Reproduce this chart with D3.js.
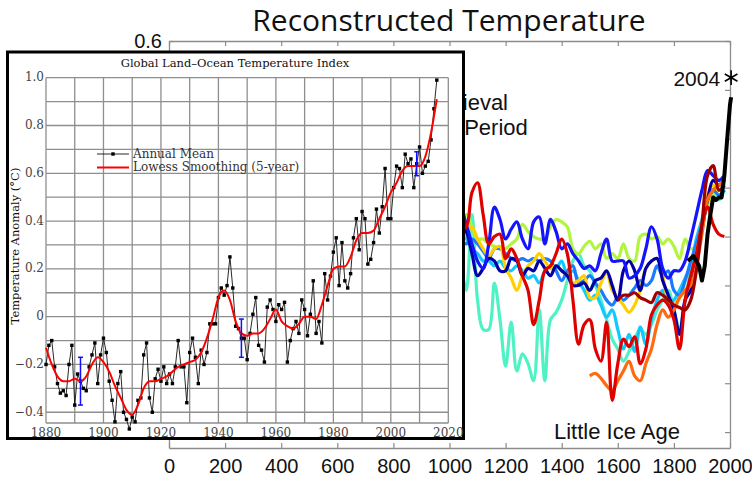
<!DOCTYPE html>
<html>
<head>
<meta charset="utf-8">
<script src="https://cdn.jsdelivr.net/npm/d3@7"></script>
<style>
  body { margin: 0; background: #fff; }
  svg { display: block; }
</style>
</head>
<body>
<svg id="chart" width="752" height="478"></svg>
<script>
// ---- background: reconstructed temperature (deg C) ----
const reconYears = [1040,1060,1080,1100,1120,1140,1160,1180,1200,1220,1240,1260,1280,1300,1320,1340,1360,1380,1400,1420,1440,1460,1480,1500,1520,1540,1560,1580,1600,1620,1640,1660,1680,1700,1720,1740,1760,1780,1800,1820,1840,1860,1880,1900,1920,1940,1960,1980];

const mintSeries = [-0.30,-0.42,-0.11,-0.46,-0.58,-0.58,-0.39,-0.54,-0.73,-0.55,-0.75,-0.68,-0.72,-0.79,-0.50,-0.79,-0.54,-0.51,-0.46,-0.38,-0.30,-0.27,-0.32,-0.34,-0.40,-0.46,-0.54,-0.62,-0.66,-0.71,-0.67,-0.62,-0.58,-0.60,-0.56,-0.50,-0.46,-0.42,-0.50,-0.58,-0.46,-0.34,-0.25,-0.17,-0.07,-0.03,-0.05,-0.01];
const limeSeries = [-0.13,-0.11,-0.16,-0.21,-0.21,-0.23,-0.24,-0.25,-0.25,-0.23,-0.21,-0.15,-0.18,-0.20,-0.21,-0.21,-0.16,-0.13,-0.14,-0.16,-0.25,-0.27,-0.24,-0.22,-0.25,-0.23,-0.29,-0.27,-0.29,-0.23,-0.29,-0.30,-0.20,-0.19,-0.21,-0.20,-0.23,-0.21,-0.24,-0.29,-0.21,-0.25,-0.24,-0.15,-0.07,-0.03,-0.01,0.01];
const cyanSeries = [-0.19,-0.21,-0.25,-0.27,-0.30,-0.30,-0.32,-0.30,-0.33,-0.34,-0.32,-0.34,-0.37,-0.36,-0.39,-0.34,-0.32,-0.33,-0.30,-0.36,-0.34,-0.38,-0.42,-0.46,-0.44,-0.48,-0.53,-0.50,-0.58,-0.66,-0.60,-0.67,-0.57,-0.64,-0.54,-0.46,-0.42,-0.48,-0.46,-0.42,-0.37,-0.32,-0.21,-0.13,-0.05,-0.01,0.01,0.03];
const lightBlueSeries = [-0.21,-0.23,-0.21,-0.23,-0.26,-0.29,-0.25,-0.25,-0.27,-0.29,-0.30,-0.29,-0.30,-0.29,-0.30,-0.29,-0.30,-0.34,-0.38,-0.34,-0.32,-0.39,-0.38,-0.36,-0.39,-0.42,-0.46,-0.48,-0.45,-0.46,-0.44,-0.41,-0.38,-0.40,-0.38,-0.32,-0.36,-0.34,-0.42,-0.44,-0.38,-0.30,-0.23,-0.15,-0.05,-0.01,-0.03,-0.01];
const yellowSeries = [-0.21,-0.19,-0.16,-0.21,-0.25,-0.28,-0.25,-0.24,-0.33,-0.37,-0.42,-0.36,-0.32,-0.30,-0.27,-0.30,-0.33,-0.32,-0.34,-0.36,-0.39,-0.38,-0.36,-0.45,-0.45,-0.39,-0.35,-0.42,-0.45,-0.48,-0.51,-0.48,-0.42,-0.33,-0.30,-0.29,-0.36,-0.46,-0.48,-0.45,-0.42,-0.38,-0.27,-0.15,-0.03,0.01,-0.01,0.01];
const navySeries = [-0.15,-0.18,-0.27,-0.36,-0.33,-0.29,-0.30,-0.34,-0.34,-0.29,-0.30,-0.36,-0.33,-0.34,-0.30,-0.33,-0.36,-0.32,-0.34,-0.36,-0.40,-0.40,-0.39,-0.42,-0.38,-0.37,-0.34,-0.40,-0.46,-0.34,-0.30,-0.34,-0.42,-0.33,-0.30,-0.29,-0.38,-0.44,-0.50,-0.60,-0.46,-0.42,-0.30,-0.17,-0.05,0.03,0.01,0.03];
const blueSeries = [-0.07,-0.15,-0.23,-0.30,-0.33,-0.23,-0.08,-0.13,-0.21,-0.17,-0.14,-0.21,-0.25,-0.14,-0.12,-0.23,-0.13,-0.18,-0.25,-0.23,-0.27,-0.30,-0.33,-0.32,-0.34,-0.27,-0.21,-0.30,-0.30,-0.30,-0.37,-0.36,-0.33,-0.25,-0.16,-0.21,-0.33,-0.37,-0.34,-0.34,-0.30,-0.21,-0.11,-0.01,0.07,0.05,0.03,0.05];
const orangeSeries = [-0.77,-0.76,-0.78,-0.81,-0.83,-0.79,-0.75,-0.71,-0.77,-0.79,-0.72,-0.66,-0.56,-0.50,-0.53,-0.50,-0.45,-0.42,-0.40,-0.32,-0.19,-0.05,-0.01,0.01,0.03];
const redSeries = [-0.17,-0.16,-0.02,0.02,-0.11,-0.23,-0.20,-0.19,-0.29,-0.25,-0.29,-0.36,-0.42,-0.56,-0.46,-0.34,-0.32,-0.27,-0.21,-0.27,-0.46,-0.64,-0.56,-0.54,-0.66,-0.71,-0.55,-0.87,-0.72,-0.62,-0.65,-0.61,-0.72,-0.66,-0.52,-0.48,-0.46,-0.48,-0.54,-0.66,-0.46,-0.36,-0.27,-0.15,-0.08,-0.15,-0.19,-0.20];
const darkRedSeries = [-0.46,-0.44,-0.44,-0.43,-0.45,-0.46,-0.47,-0.43,-0.44,-0.46,-0.48,-0.49,-0.50,-0.46,-0.34,-0.15,0.05,0.09,-0.01,0.01];

const instYears = [1850,1860,1870,1880,1890,1900,1910,1920,1930,1940,1950,1960,1970,1980,1990,2000,2004];
const instValues = [-0.30,-0.29,-0.28,-0.30,-0.32,-0.38,-0.32,-0.19,-0.11,-0.04,-0.05,-0.04,-0.04,0.05,0.20,0.34,0.37];
const star2004 = 0.45;

const bgXTicks = [0,200,400,600,800,1000,1200,1400,1600,1800,2000];
const bgYTicks = [0.6,0.4,0.2,0,-0.2,-0.4,-0.6,-0.8,-1.0];

// ---- inset: GISS land-ocean index ----
const annualStart = 1880;
const annualMean = [
  -0.20,-0.12,-0.10,-0.21,-0.28,-0.32,-0.31,-0.33,-0.20,-0.12,
  -0.37,-0.24,-0.27,-0.30,-0.31,-0.21,-0.16,-0.11,-0.28,-0.16,
  -0.09,-0.15,-0.27,-0.35,-0.44,-0.28,-0.23,-0.40,-0.43,-0.47,
  -0.42,-0.44,-0.35,-0.34,-0.16,-0.11,-0.34,-0.40,-0.26,-0.22,
  -0.27,-0.21,-0.28,-0.24,-0.28,-0.21,-0.10,-0.21,-0.21,-0.36,
  -0.15,-0.09,-0.17,-0.28,-0.14,-0.20,-0.15,-0.03,-0.03,-0.03,
  0.08,0.12,0.09,0.13,0.25,0.12,-0.04,-0.05,-0.09,-0.09,
  -0.18,-0.07,0.01,0.08,-0.12,-0.14,-0.19,0.04,0.07,0.03,
  -0.02,0.05,0.03,0.06,-0.19,-0.10,-0.05,-0.02,-0.07,0.07,
  0.03,-0.08,0.01,0.15,-0.07,-0.02,-0.11,0.18,0.07,0.17,
  0.27,0.33,0.13,0.31,0.15,0.12,0.18,0.33,0.41,0.28,
  0.44,0.41,0.22,0.24,0.31,0.45,0.35,0.46,0.62,0.41,
  0.41,0.54,0.63,0.62,0.54,0.68,0.64,0.66,0.54,0.64,
  0.71,0.60,0.63,0.65,0.74,0.87,0.99
];
const lowessYears = [1880,1882,1884,1886,1888,1890,1892,1894,1896,1898,1900,1902,1904,1906,1908,1910,1912,1914,1916,1918,1920,1922,1924,1926,1928,1930,1932,1934,1936,1938,1940,1942,1944,1946,1948,1950,1952,1954,1956,1958,1960,1962,1964,1966,1968,1970,1972,1974,1976,1978,1980,1982,1984,1986,1988,1990,1992,1994,1996,1998,2000,2002,2004,2006,2008,2010,2012,2014,2016];
const lowessValues = [-0.13,-0.20,-0.25,-0.27,-0.27,-0.26,-0.27,-0.25,-0.20,-0.17,-0.19,-0.23,-0.29,-0.34,-0.39,-0.41,-0.37,-0.30,-0.27,-0.27,-0.26,-0.25,-0.23,-0.21,-0.20,-0.19,-0.18,-0.15,-0.09,-0.01,0.08,0.11,0.07,-0.02,-0.07,-0.08,-0.07,-0.07,-0.05,-0.01,0.03,-0.02,-0.04,-0.05,-0.03,0.00,0.00,-0.01,0.05,0.13,0.20,0.21,0.21,0.25,0.32,0.35,0.35,0.36,0.41,0.46,0.52,0.56,0.61,0.63,0.63,0.63,0.67,0.77,0.91];
const errYears = [1892, 1948, 2009];
const errLow = [-0.37, -0.17, 0.59];
const errHigh = [-0.17, -0.01, 0.69];

const inXTicks = [1880,1900,1920,1940,1960,1980,2000,2020];
const inYTicks = [1.0,0.8,0.6,0.4,0.2,0,-0.2,-0.4];

const svg = d3.select('#chart');

// ================= background chart =================
const bgX = d3.scaleLinear().domain([0, 2000]).range([169, 730]);
const bgY = d3.scaleLinear().domain([-1.065, 0.6]).range([448, 41]);
const axisGray = '#8c8c8c';

svg.append('text')
  .attr('x', 449).attr('y', 31)
  .attr('text-anchor', 'middle')
  .style('font-family', 'Open Sans, Liberation Sans, sans-serif')
  .style('font-size', '30px')
  .style('fill', '#111')
  .text('Reconstructed Temperature');

const bg = svg.append('g').attr('class', 'background');

function styleAxis(g) {
  g.select('.domain').attr('stroke', axisGray).attr('stroke-width', 1.3);
  g.selectAll('.tick line').attr('stroke', axisGray).attr('stroke-width', 1.2);
  g.selectAll('.tick text')
    .style('font-family', 'Liberation Sans, Arial, sans-serif')
    .style('font-size', '20px')
    .attr('fill', '#111');
}

bg.append('g')
  .attr('transform', 'translate(0,448)')
  .call(d3.axisBottom(bgX).tickValues(bgXTicks).tickSize(-5).tickSizeOuter(0).tickPadding(11).tickFormat(d3.format('d')))
  .call(styleAxis);
bg.append('g')
  .attr('transform', 'translate(0,41)')
  .call(d3.axisTop(bgX).tickValues(bgXTicks).tickSize(-5).tickSizeOuter(0).tickFormat(''))
  .call(styleAxis);
// only the top label of the left axis shows above the inset
bg.append('g')
  .attr('transform', 'translate(169,0)')
  .call(d3.axisLeft(bgY).tickValues(bgYTicks).tickSize(-5).tickSizeOuter(0).tickPadding(7)
    .tickFormat(d => d === 0.6 ? d3.format('.1f')(d) : ''))
  .call(styleAxis);
bg.append('g')
  .attr('transform', 'translate(730,0)')
  .call(d3.axisRight(bgY).tickValues(bgYTicks).tickSize(-5).tickSizeOuter(0).tickFormat(''))
  .call(styleAxis);

const recon = [
  {color: '#4ff2c4', start: 1040, values: mintSeries},
  {color: '#b2f53e', start: 1040, values: limeSeries},
  {color: '#12c8ff', start: 1040, values: cyanSeries},
  {color: '#1a7bff', start: 1040, values: lightBlueSeries},
  {color: '#ffcf00', start: 1040, values: yellowSeries},
  {color: '#0000a6', start: 1040, values: navySeries},
  {color: '#1414ff', start: 1040, values: blueSeries},
  {color: '#ff6a10', start: 1500, values: orangeSeries},
  {color: '#e00000', start: 1040, values: redSeries},
  {color: '#a00000', start: 1600, values: darkRedSeries}
];

const reconLine = d3.line()
  .x(d => bgX(d[0]))
  .y(d => bgY(d[1]))
  .curve(d3.curveCatmullRom.alpha(0.5));

bg.selectAll('path.recon')
    .data(recon)
  .join('path')
    .attr('class', 'recon')
    .attr('fill', 'none')
    .attr('stroke', d => d.color)
    .attr('stroke-width', 3.2)
    .attr('stroke-linejoin', 'round')
    .attr('d', d => {
      const i0 = reconYears.indexOf(d.start);
      return reconLine(d.values.map((v, i) => [reconYears[i0 + i], v]));
    });

bg.append('path')
  .attr('fill', 'none')
  .attr('stroke', '#000')
  .attr('stroke-width', 4)
  .attr('stroke-linejoin', 'round')
  .attr('d', d3.line().x(d => bgX(d[0])).y(d => bgY(d[1]))(instYears.map((y, i) => [y, instValues[i]])));

bg.append('path')
  .attr('transform', `translate(${bgX(2004)},${bgY(star2004)})`)
  .attr('d', d3.symbol(d3.symbolAsterisk, 150)())
  .attr('fill', 'none')
  .attr('stroke', '#000')
  .attr('stroke-width', 1.6);

const labelFont = 'Liberation Sans, Arial, sans-serif';
bg.append('text')
  .attr('x', bgX(2004) - 11).attr('y', bgY(star2004) + 8)
  .attr('text-anchor', 'end')
  .style('font-family', labelFont).style('font-size', '21px').attr('fill', '#111')
  .text('2004');

const mwp = bg.append('text')
  .attr('text-anchor', 'middle')
  .style('font-family', labelFont).style('font-size', '22px').attr('fill', '#111');
mwp.append('tspan').attr('x', 464).attr('y', 110).text('Medieval');
mwp.append('tspan').attr('x', 464).attr('y', 135).text('Warm Period');

bg.append('text')
  .attr('x', 617).attr('y', 439)
  .attr('text-anchor', 'middle')
  .style('font-family', labelFont).style('font-size', '22px').attr('fill', '#111')
  .text('Little Ice Age');

// ================= inset chart =================
const inset = svg.append('g').attr('class', 'inset');
const serif = 'DejaVu Serif, serif';

inset.append('rect')
  .attr('x', 7.5).attr('y', 52)
  .attr('width', 456).attr('height', 386.5)
  .attr('fill', '#fff')
  .attr('stroke', '#000')
  .attr('stroke-width', 3);

const inX = d3.scaleLinear().domain([1880, 2020]).range([46, 448.3]);
const inY = d3.scaleLinear().domain([-0.445, 1.0]).range([423, 77.7]);

const gridGray = '#8e8e8e';
inset.append('g')
  .selectAll('line')
  .data(d3.range(1880, 2021, 10))
  .join('line')
    .attr('x1', d => inX(d)).attr('x2', d => inX(d))
    .attr('y1', inY(1.0)).attr('y2', inY(-0.445))
    .attr('stroke', gridGray).attr('stroke-width', 1.3);
inset.append('g')
  .selectAll('line')
  .data(d3.range(-4, 11).map(v => v / 10).concat([-0.445]))
  .join('line')
    .attr('x1', inX(1880)).attr('x2', inX(2020))
    .attr('y1', d => inY(d)).attr('y2', d => inY(d))
    .attr('stroke', gridGray).attr('stroke-width', 1.3);

inset.append('text')
  .attr('x', 235).attr('y', 64)
  .attr('text-anchor', 'middle').attr('dominant-baseline', 'middle')
  .style('font-family', serif).style('font-size', '11.5px').attr('fill', '#111')
  .text('Global Land\u2013Ocean Temperature Index');

inset.selectAll('text.ytick')
  .data(inYTicks)
  .join('text')
    .attr('class', 'ytick')
    .attr('x', 44).attr('y', d => inY(d))
    .attr('text-anchor', 'end').attr('dominant-baseline', 'middle')
    .style('font-family', serif).style('font-size', '12px').attr('fill', '#444')
    .text(d => d === 0 ? '0' : d3.format('.1f')(d));

inset.selectAll('text.xtick')
  .data(inXTicks)
  .join('text')
    .attr('class', 'xtick')
    .attr('x', d => inX(d)).attr('y', 433)
    .attr('text-anchor', 'middle').attr('dominant-baseline', 'middle')
    .style('font-family', serif).style('font-size', '12px').attr('fill', '#444')
    .text(d => d);

inset.append('text')
  .attr('transform', 'translate(16,246) rotate(-90)')
  .attr('text-anchor', 'middle').attr('dominant-baseline', 'middle')
  .style('font-family', serif).style('font-size', '11.5px').attr('fill', '#111')
  .text('Temperature Anomaly (\u00B0C)');

// annual mean
const annual = annualMean.map((v, i) => [annualStart + i, v]);
inset.append('path')
  .attr('fill', 'none').attr('stroke', '#111').attr('stroke-width', 0.9)
  .attr('d', d3.line().x(d => inX(d[0])).y(d => inY(d[1]))(annual));
inset.selectAll('rect.pt')
  .data(annual)
  .join('rect')
    .attr('class', 'pt')
    .attr('x', d => inX(d[0]) - 1.7).attr('y', d => inY(d[1]) - 1.7)
    .attr('width', 3.4).attr('height', 3.4)
    .attr('fill', '#000');

// lowess
inset.append('path')
  .attr('fill', 'none').attr('stroke', '#f00').attr('stroke-width', 2)
  .attr('d', d3.line().x(d => inX(d[0])).y(d => inY(d[1])).curve(d3.curveMonotoneX)(lowessYears.map((y, i) => [y, lowessValues[i]])));

// error bars
const errG = inset.selectAll('g.err')
  .data(errYears.map((y, i) => ({year: y, lo: errLow[i], hi: errHigh[i]})))
  .join('g').attr('class', 'err')
  .attr('stroke', '#1010ff').attr('stroke-width', 1.5);
errG.append('line')
  .attr('x1', d => inX(d.year)).attr('x2', d => inX(d.year))
  .attr('y1', d => inY(d.hi)).attr('y2', d => inY(d.lo));
errG.append('line')
  .attr('x1', d => inX(d.year) - 2.5).attr('x2', d => inX(d.year) + 2.5)
  .attr('y1', d => inY(d.hi)).attr('y2', d => inY(d.hi));
errG.append('line')
  .attr('x1', d => inX(d.year) - 2.5).attr('x2', d => inX(d.year) + 2.5)
  .attr('y1', d => inY(d.lo)).attr('y2', d => inY(d.lo));

// legend
const legend = inset.append('g');
legend.append('line')
  .attr('x1', 97).attr('x2', 129).attr('y1', 154).attr('y2', 154)
  .attr('stroke', '#111').attr('stroke-width', 0.9);
legend.append('rect')
  .attr('x', 113 - 1.7).attr('y', 154 - 1.7).attr('width', 3.4).attr('height', 3.4)
  .attr('fill', '#000');
legend.append('line')
  .attr('x1', 97).attr('x2', 129).attr('y1', 167.5).attr('y2', 167.5)
  .attr('stroke', '#f00').attr('stroke-width', 2);
legend.append('text')
  .attr('x', 133).attr('y', 154).attr('dominant-baseline', 'middle')
  .style('font-family', serif).style('font-size', '12px').attr('fill', '#333')
  .text('Annual Mean');
legend.append('text')
  .attr('x', 133).attr('y', 167.5).attr('dominant-baseline', 'middle')
  .style('font-family', serif).style('font-size', '12px').attr('fill', '#333')
  .text('Lowess Smoothing (5-year)');
</script>
</body>
</html>
